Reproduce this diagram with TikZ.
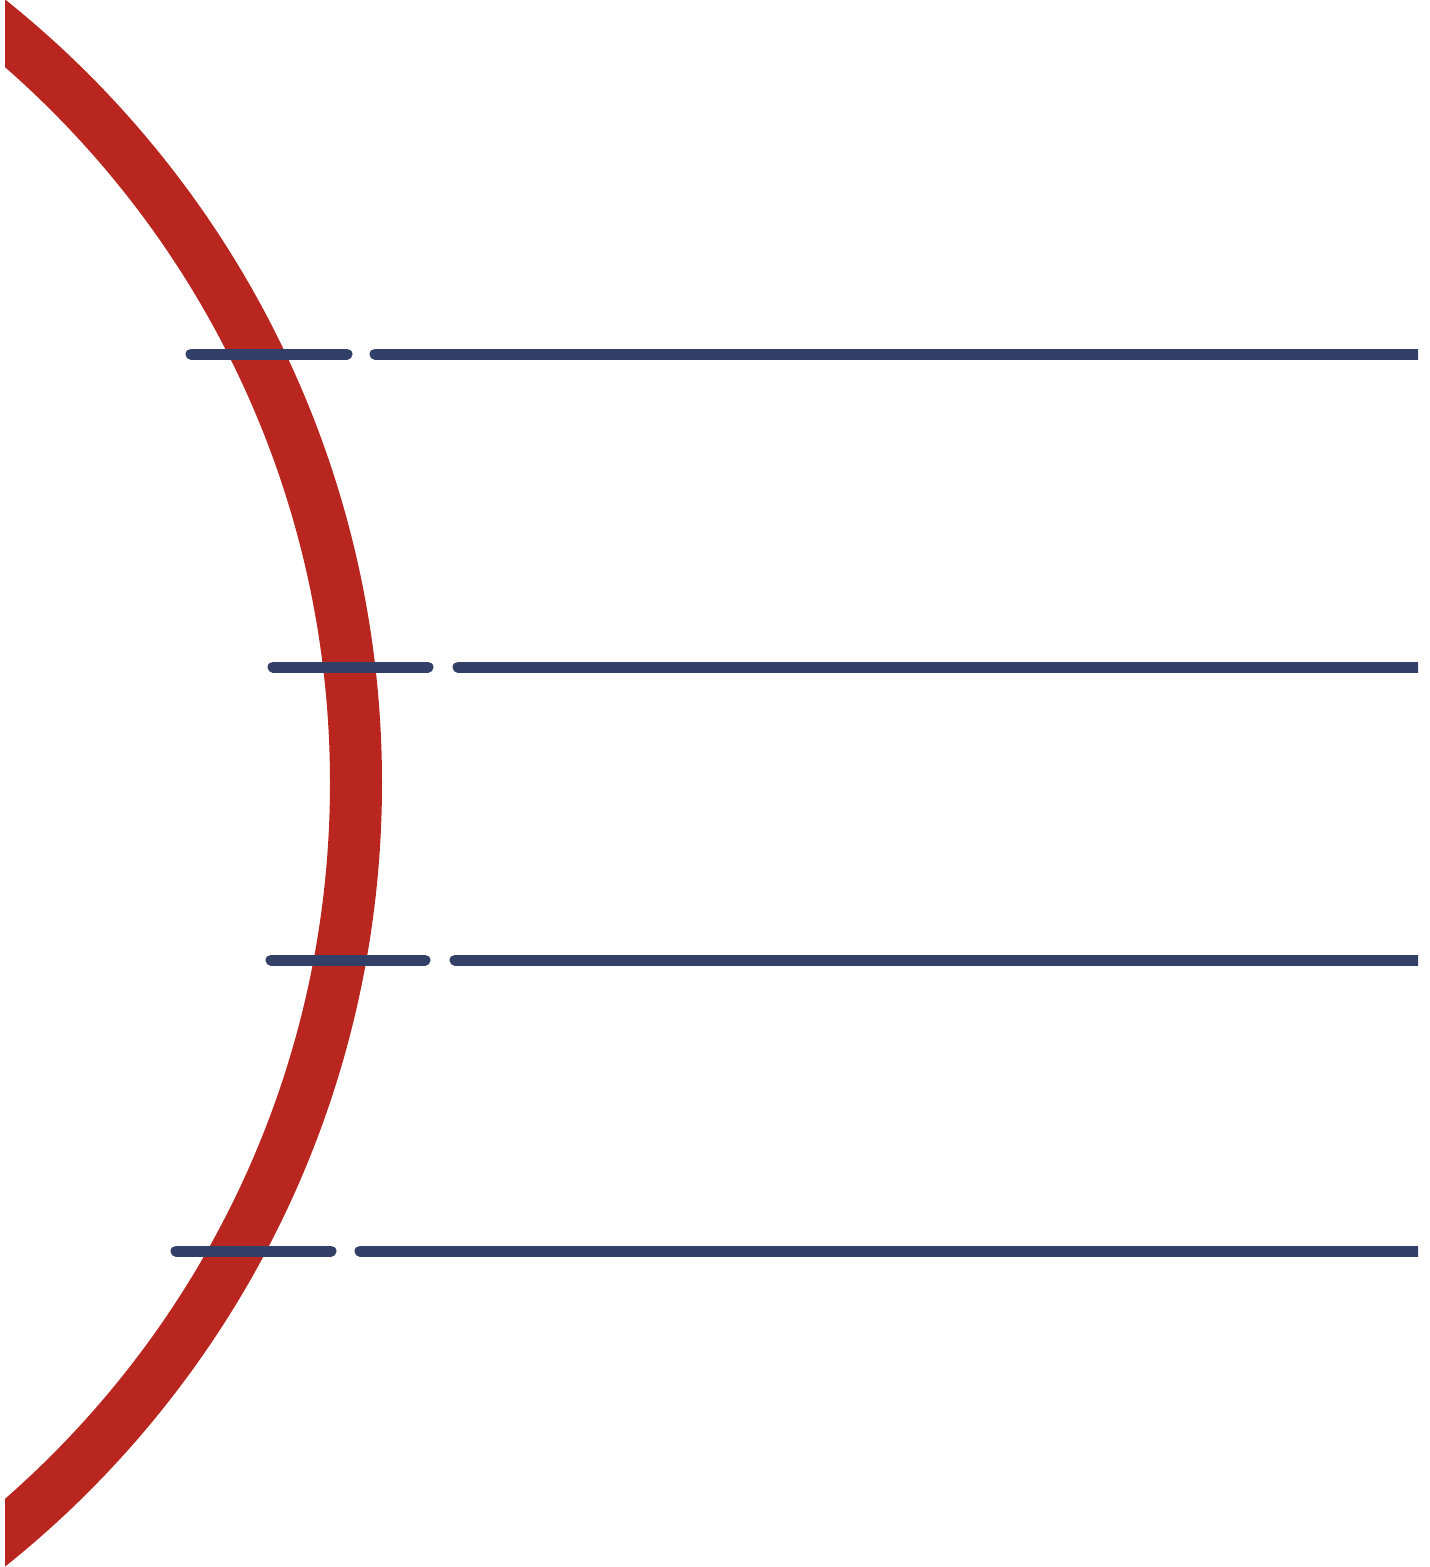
\documentclass[tikz,border=0pt]{standalone}
\definecolor{arcred}{RGB}{185,38,31}
\definecolor{bar}{RGB}{50,63,102}
\tikzset{
  redarc/.style={draw=arcred, line width=52pt},
  tick/.style={draw=bar, line width=11pt, line cap=round},
}
\begin{document}
\begin{tikzpicture}[x=1pt,y=-1pt]
\useasboundingbox (0,0) rectangle (1430,1567);
\begin{scope}
  \clip (5,0) rectangle (1418,1567);
  \coordinate (c) at (-620.8,783);
  \draw[redarc] (c) circle[radius=976.8];
  % horizontal lines
  \foreach \y/\a/\b/\c in {354/191/347/375, 667/273/428/458, 960/271/425/455, 1251/176/331/360}{
    \coordinate (s1) at (\a,\y);
    \coordinate (s2) at (\b,\y);
    \coordinate (l1) at (\c,\y);
    \coordinate (l2) at (1440,\y);
    \draw[tick] (s1) -- (s2);
    \draw[tick] (l1) -- (l2);
  }
\end{scope}
\end{tikzpicture}
\end{document}
